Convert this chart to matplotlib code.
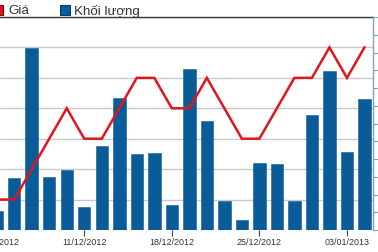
import matplotlib
matplotlib.use("Agg")
import matplotlib.pyplot as plt
from matplotlib.patches import Rectangle
import numpy as np

# ---- data ----
dates = ["04/12/2012", "05/12/2012", "06/12/2012", "07/12/2012", "10/12/2012",
         "11/12/2012", "12/12/2012", "13/12/2012", "14/12/2012", "17/12/2012",
         "18/12/2012", "19/12/2012", "20/12/2012", "21/12/2012", "24/12/2012",
         "25/12/2012", "26/12/2012", "27/12/2012", "28/12/2012", "02/01/2013",
         "03/01/2013", "04/01/2013"]
price = [12.9, 12.9, 13.0, 13.1, 13.2, 13.1, 13.1, 13.2, 13.3, 13.3, 13.2,
         13.2, 13.3, 13.2, 13.1, 13.1, 13.2, 13.3, 13.3, 13.4, 13.3, 13.4]
volume = [10700, 29100, 102700, 30000, 33600, 12800, 47300, 74500, 42800, 43400,
          14300, 90500, 61600, 16300, 5600, 37900, 37200, 16300, 65000, 89600,
          43800, 73600]
legend_labels = ["Giá", "Khối lượng"]

plt.rcParams['font.family'] = ['Liberation Sans', 'DejaVu Sans']

W, H = 378, 252
fig = plt.figure(figsize=(W / 100, H / 100), dpi=100)

def fx(px):
    return px / W

def fy(py):
    return 1 - py / H

left_px, right_px, top_px, bot_px = -20.0, 372.7, 17.0, 230.0
rect = [fx(left_px), fy(bot_px), fx(right_px) - fx(left_px), fy(top_px) - fy(bot_px)]

x = np.arange(len(dates))
xlim = (-0.953, 21.47)

bar_color = "#0a5c99"
line_color = "#e0161c"
grid_color = "#c9c9c9"
axis_blue = "#7ba3c6"

# base axes: price grid
ax_grid = fig.add_axes(rect)
ax_grid.set_xlim(*xlim)
ax_grid.set_ylim(12.8, 13.5)
ax_grid.set_yticks(np.round(np.arange(12.8, 13.51, 0.1), 1))
ax_grid.yaxis.grid(True, color=grid_color, linewidth=1.0)
ax_grid.set_axisbelow(True)
ax_grid.tick_params(axis='y', left=False, labelleft=False, right=False, labelright=False)
ax_grid.set_xticks(x[::5])
ax_grid.set_xticklabels(dates[::5], fontsize=6.4, color="#333333")
ax_grid.tick_params(axis='x', length=4, width=0.8, color="#444444", pad=2)
for s in ["left", "right", "bottom"]:
    ax_grid.spines[s].set_visible(False)
ax_grid.spines["top"].set_color("#3a3a3a")
ax_grid.spines["top"].set_linewidth(1.0)

# volume axes (bars)
ax_vol = fig.add_axes(rect, sharex=ax_grid)
ax_vol.patch.set_visible(False)
ax_vol.bar(x, volume, width=0.71, color=bar_color, edgecolor=bar_color, linewidth=0.4)
ax_vol.set_ylim(0, 120000)
ax_vol.set_yticks(np.arange(0, 120001, 10000))
ax_vol.yaxis.tick_right()
ax_vol.tick_params(axis='y', length=4, width=0.8, color=axis_blue, labelright=False)
ax_vol.tick_params(axis='x', bottom=False, labelbottom=False)
for s in ["left", "top", "bottom"]:
    ax_vol.spines[s].set_visible(False)
ax_vol.spines["right"].set_color(axis_blue)
ax_vol.spines["right"].set_linewidth(1.0)

# price line
ax_line = fig.add_axes(rect, sharex=ax_grid)
ax_line.patch.set_visible(False)
ax_line.plot(x, price, color=line_color, linewidth=1.8, solid_joinstyle='miter')
ax_line.set_ylim(12.8, 13.5)
ax_line.axis('off')

# legend (drawn manually)
sq = 10
fig.patches.append(Rectangle((fx(-7), fy(15)), fx(sq), sq / H, transform=fig.transFigure,
                             facecolor=line_color, edgecolor="#8a0000", linewidth=0.8))
fig.text(fx(8), fy(14.5), legend_labels[0], fontsize=9.6, color="#333333", va='baseline')
fig.patches.append(Rectangle((fx(60), fy(15)), fx(sq), sq / H, transform=fig.transFigure,
                             facecolor=bar_color, edgecolor="#033a63", linewidth=0.8))
fig.text(fx(74), fy(14.5), legend_labels[1], fontsize=9.6, color="#333333", va='baseline')

fig.savefig("out.png", dpi=100)
